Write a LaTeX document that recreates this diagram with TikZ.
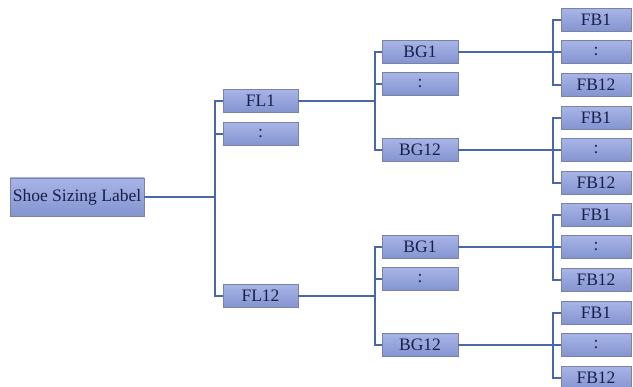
\documentclass[tikz,border=0pt]{standalone}
\usepackage{fontspec}
\setmainfont{Liberation Serif}
\definecolor{boxtop}{HTML}{A7B4E6}
\definecolor{boxbot}{HTML}{8494D0}
\definecolor{boxedge}{HTML}{7B82A6}
\definecolor{txt}{HTML}{18204A}
\definecolor{wire}{HTML}{4A68A8}
\begin{document}
\begin{tikzpicture}[x=1pt,y=-1pt,
  bx/.style={draw=boxedge,line width=0.8pt,top color=boxtop,bottom color=boxbot,
    text=txt,inner sep=0pt,minimum height=23pt,font=\fontsize{17.5}{19}\selectfont},
  flbox/.style={bx,minimum width=75pt},
  bgbox/.style={bx,minimum width=76pt},
  fbbox/.style={bx,minimum width=70pt},
  wire/.style={draw=wire,line width=1.7pt}]
\useasboundingbox (0,0) rectangle (633,387);
\node[bx,minimum width=134pt,minimum height=38pt] (shoe) at (77,197) {Shoe Sizing Label};
% trunk x positions
\coordinate (t1) at (215,0);
\coordinate (t2) at (375,0);
\coordinate (t3) at (553,0);
% FL column
\node[flbox] (fl1) at (260.5,101) {FL1};
\node[flbox] (fld) at (260.5,134) {:};
\node[flbox] (fl12) at (260.5,296) {FL12};
% BG column
\node[bgbox] (bga1) at (420,52) {BG1};
\node[bgbox] (bgad) at (420,84) {:};
\node[bgbox] (bga12) at (420,150) {BG12};
\node[bgbox] (bgb1) at (420,247) {BG1};
\node[bgbox] (bgbd) at (420,279) {:};
\node[bgbox] (bgb12) at (420,345) {BG12};
% FB column
\foreach \g/\c in {a/52,b/150,c/247,d/345}{
  \node[fbbox] (fb\g1) at (596,\c-32) {FB1};
  \node[fbbox] (fb\g d) at (596,\c) {:};
  \node[fbbox] (fb\g12) at (596,\c+33) {FB12};
}
% connectors level 1
\draw[wire] (shoe.east) -- (shoe.east -| t1);
\draw[wire] (fl1.west) -- (fl1.west -| t1) -- (fl12.west -| t1) -- (fl12.west);
\draw[wire] (fld.west) -- (fld.west -| t1);
% level 2
\draw[wire] (fl1.east) -- (fl1.east -| t2);
\draw[wire] (fl12.east) -- (fl12.east -| t2);
\draw[wire] (bga1.west) -- (bga1.west -| t2) -- (bga12.west -| t2) -- (bga12.west);
\draw[wire] (bgad.west) -- (bgad.west -| t2);
\draw[wire] (bgb1.west) -- (bgb1.west -| t2) -- (bgb12.west -| t2) -- (bgb12.west);
\draw[wire] (bgbd.west) -- (bgbd.west -| t2);
% level 3
\draw[wire] (bga1.east) -- (fbad.west);
\draw[wire] (bga12.east) -- (fbbd.west);
\draw[wire] (bgb1.east) -- (fbcd.west);
\draw[wire] (bgb12.east) -- (fbdd.west);
\foreach \g in {a,b,c,d}{
  \draw[wire] (fb\g1.west) -- (fb\g1.west -| t3) -- (fb\g12.west -| t3) -- (fb\g12.west);
}
\end{tikzpicture}
\end{document}
